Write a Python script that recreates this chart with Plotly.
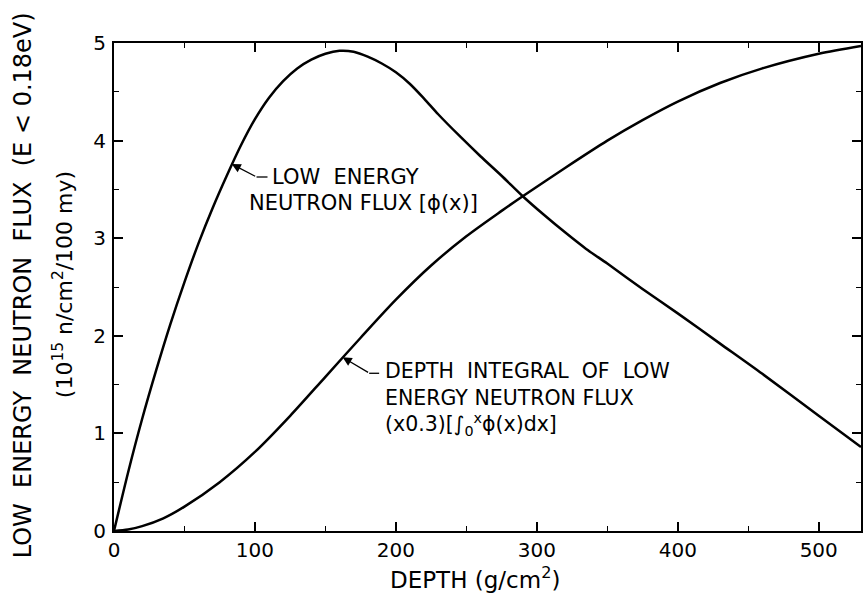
import plotly.graph_objects as go

# Low energy neutron flux phi(x)
flux_x = [0, 10, 20, 30, 40, 50, 60, 70, 80, 90, 100, 110, 120, 130, 140, 150, 160, 170,
          180, 190, 200, 210, 220, 230, 245, 260, 275, 290, 305, 320, 335, 350, 375, 400,
          430, 460, 500, 530]
flux_y = [0, 0.60, 1.15, 1.65, 2.12, 2.55, 2.95, 3.31, 3.64, 3.95, 4.22, 4.44, 4.61, 4.74,
          4.83, 4.89, 4.92, 4.91, 4.86, 4.79, 4.70, 4.58, 4.43, 4.27, 4.05, 3.84, 3.64, 3.43,
          3.24, 3.06, 2.89, 2.74, 2.48, 2.23, 1.92, 1.61, 1.18, 0.86]

# Depth integral of low energy neutron flux (x0.3)
int_x = [0, 10, 20, 35, 50, 75, 100, 125, 150, 175, 200, 225, 250, 275, 290, 320, 350, 375,
         400, 430, 460, 500, 530]
int_y = [0, 0.015, 0.05, 0.13, 0.25, 0.50, 0.81, 1.18, 1.58, 1.98, 2.37, 2.72, 3.02, 3.28,
         3.43, 3.72, 4.00, 4.21, 4.40, 4.59, 4.74, 4.89, 4.97]

x_ticks = [0, 100, 200, 300, 400, 500]
y_ticks = [0, 1, 2, 3, 4, 5]

FONT = "DejaVu Sans"

fig = go.Figure()
fig.add_trace(go.Scatter(x=flux_x, y=flux_y, mode="lines",
                         line=dict(color="black", width=2.5, shape="spline", smoothing=0.8),
                         showlegend=False, hoverinfo="skip"))
fig.add_trace(go.Scatter(x=int_x, y=int_y, mode="lines",
                         line=dict(color="black", width=2.5, shape="spline", smoothing=0.8),
                         showlegend=False, hoverinfo="skip"))

axis_common = dict(showgrid=False, zeroline=False, showline=True, linecolor="black",
                   linewidth=2, mirror="allticks", ticks="inside", ticklen=9,
                   tickwidth=1.5, tickcolor="black",
                   tickfont=dict(family=FONT, size=20, color="black"))

fig.update_xaxes(range=[0, 530], tickvals=x_ticks, ticktext=[str(v) for v in x_ticks],
                 minor=dict(ticks="inside", ticklen=5, tickwidth=1.2, tickcolor="black",
                            dtick=50, tick0=0),
                 **axis_common)
fig.update_yaxes(range=[0, 5], tickvals=y_ticks, ticktext=[str(v) for v in y_ticks],
                 minor=dict(ticks="inside", ticklen=5, tickwidth=1.2, tickcolor="black",
                            dtick=0.5, tick0=0),
                 ticklabelstandoff=2,
                 **axis_common)

annots = []
# axis titles
annots.append(dict(text="DEPTH (g/cm<sup>2</sup>)", xref="paper", yref="paper",
                   x=(476 - 114) / 749.5, y=(531 - 578) / 488, xanchor="center",
                   yanchor="middle", showarrow=False,
                   font=dict(family=FONT, size=23, color="black")))
annots.append(dict(text="LOW\u00a0 ENERGY\u00a0 NEUTRON\u00a0 FLUX\u00a0 (E\u00a0<\u00a00.18eV)",
                   xref="paper", yref="paper", textangle=-90,
                   x=(23 - 114) / 749.5, y=(531 - 285) / 488, xanchor="center",
                   yanchor="middle", showarrow=False,
                   font=dict(family=FONT, size=24, color="black")))
annots.append(dict(text="(10<sup>15</sup> n/cm<sup>2</sup>/100 my)",
                   xref="paper", yref="paper", textangle=-90,
                   x=(63 - 114) / 749.5, y=(531 - 285) / 488, xanchor="center",
                   yanchor="middle", showarrow=False,
                   font=dict(family=FONT, size=22, color="black")))

# curve labels with leaders
annots.append(dict(x=83.5, y=3.76, xref="x", yref="y", text="", showarrow=True,
                   ax=25, ay=13, arrowhead=2, arrowsize=1.4, arrowwidth=1.3,
                   arrowcolor="black", standoff=0))
annots.append(dict(x=111.0, y=3.627, xref="x", yref="y", text="LOW\u00a0 ENERGY",
                   xanchor="left", yanchor="middle", showarrow=False,
                   font=dict(family=FONT, size=21, color="black")))
annots.append(dict(x=94.1, y=3.364, xref="x", yref="y", text="NEUTRON FLUX [\u03d5(x)]",
                   xanchor="left", yanchor="middle", showarrow=False,
                   font=dict(family=FONT, size=21, color="black")))

annots.append(dict(x=162.2, y=1.78, xref="x", yref="y", text="", showarrow=True,
                   ax=27, ay=16, arrowhead=2, arrowsize=1.4, arrowwidth=1.3,
                   arrowcolor="black", standoff=0))
annots.append(dict(x=190.9, y=1.352, xref="x", yref="y",
                   text="DEPTH\u00a0 INTEGRAL\u00a0 OF\u00a0 LOW<br>"
                        "ENERGY NEUTRON FLUX<br>"
                        "(x0.3)[\u222b<sub>0</sub><sup>x</sup>\u03d5(x)dx]",
                   align="left", xanchor="left", yanchor="middle", showarrow=False,
                   font=dict(family=FONT, size=20.5, color="black")))

shapes = [
    dict(type="line", xref="x", yref="y", x0=(257 - 114) / 1.414, x1=(268 - 114) / 1.414,
         y0=3.627, y1=3.627, line=dict(color="black", width=1.3)),
    dict(type="line", xref="x", yref="y", x0=(370 - 114) / 1.414, x1=(380 - 114) / 1.414,
         y0=1.616, y1=1.616, line=dict(color="black", width=1.3)),
]

fig.update_layout(width=864, height=593, margin=dict(l=114, r=1, t=43, b=62),
                  paper_bgcolor="white", plot_bgcolor="white",
                  annotations=annots, shapes=shapes,
                  font=dict(family=FONT, color="black"))

fig.write_html("out.html")
